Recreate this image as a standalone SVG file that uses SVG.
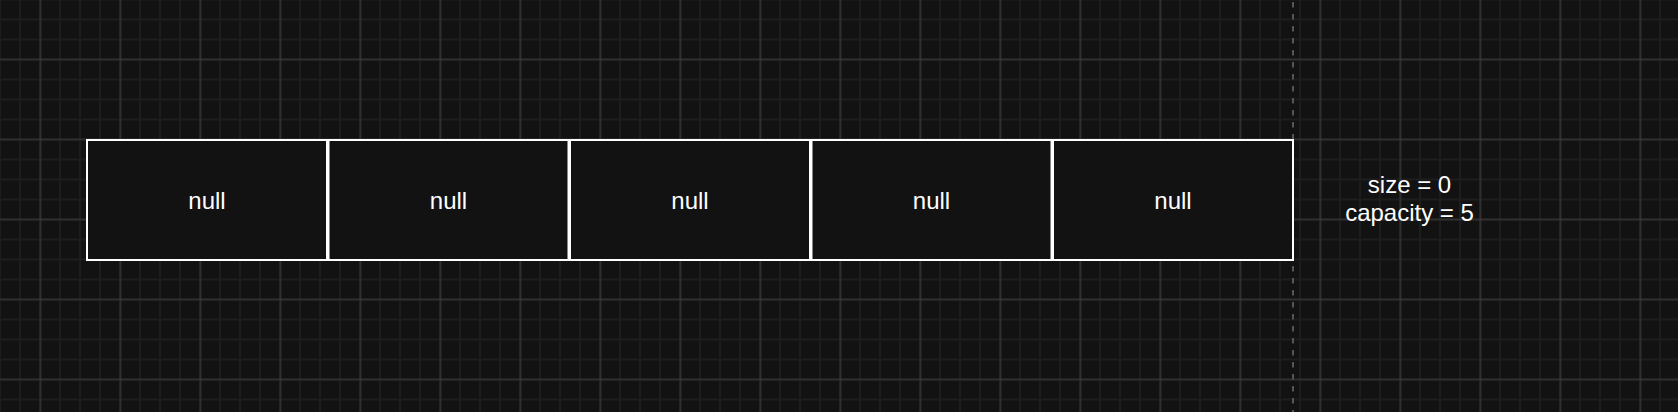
<svg xmlns="http://www.w3.org/2000/svg" width="1678" height="412" viewBox="0 0 1678 412">
  <style>
    .cell { fill: #121212; stroke: #ffffff; stroke-width: 2; }
    .lbl { font-family: "Liberation Sans", Arial, sans-serif; font-size: 24px; fill: #ffffff; text-anchor: middle; }
    .guide { stroke: #555555; stroke-width: 2; stroke-dasharray: 5.5 6.5; fill: none; }
  </style>
  <defs>
    <pattern id="minor" patternUnits="userSpaceOnUse" x="-10" y="-10.5" width="20" height="20">
      <path d="M10 0V20M0 10H20" stroke="#1d1d1d" stroke-width="2" fill="none"/>
    </pattern>
    <pattern id="major" patternUnits="userSpaceOnUse" x="0.5" y="19.5" width="80" height="80">
      <path d="M40 0V80M0 40H80" stroke="#404040" stroke-width="1" fill="none"/>
    </pattern>
  </defs>
  <g id="background">
    <rect width="1678" height="412" fill="#121212"/>
    <rect width="1678" height="412" fill="url(#minor)"/>
    <rect width="1678" height="412" fill="url(#major)"/>
  </g>
  <g id="guides">
    <line class="guide" x1="1293" y1="2" x2="1293" y2="412"/>
  </g>
  <g id="connectors"></g>
  <g id="cell-0">
    <rect class="cell" x="87" y="140" width="240" height="120"/>
    <text class="lbl" x="207" y="208.5">null</text>
  </g>
  <g id="cell-1">
    <rect class="cell" x="328.5" y="140" width="240" height="120"/>
    <text class="lbl" x="448.5" y="208.5">null</text>
  </g>
  <g id="cell-2">
    <rect class="cell" x="570" y="140" width="240" height="120"/>
    <text class="lbl" x="690" y="208.5">null</text>
  </g>
  <g id="cell-3">
    <rect class="cell" x="811.5" y="140" width="240" height="120"/>
    <text class="lbl" x="931.5" y="208.5">null</text>
  </g>
  <g id="cell-4">
    <rect class="cell" x="1053" y="140" width="240" height="120"/>
    <text class="lbl" x="1173" y="208.5">null</text>
  </g>
  <g id="info">
    <text class="lbl" x="1409.5" y="192.5">size = 0</text>
    <text class="lbl" x="1409.5" y="221.3">capacity = 5</text>
  </g>
</svg>
